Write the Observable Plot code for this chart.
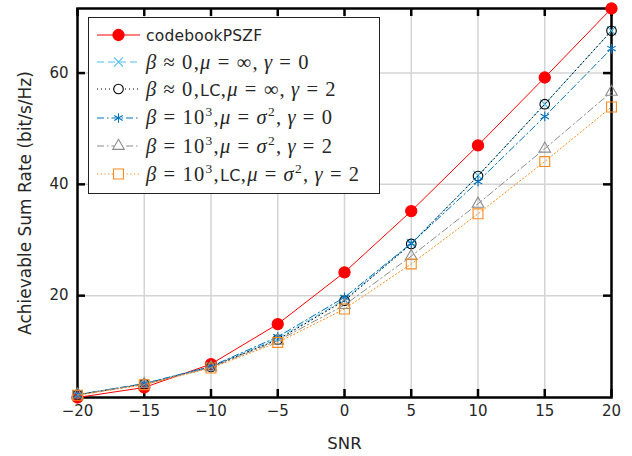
<!DOCTYPE html>
<html><head><meta charset="utf-8">
<script src="https://cdn.jsdelivr.net/npm/d3@7"></script>
<script src="https://cdn.jsdelivr.net/npm/@observablehq/plot@0.6"></script>
<style>
body{margin:0;background:#fff;}
#wrap{position:relative;width:632px;height:456px;font-family:"DejaVu Sans",sans-serif;}
#legend{position:absolute;left:88px;top:17px;width:292px;height:177px;border:1px solid #222;background:#fff;box-sizing:border-box;}
.row{position:absolute;left:0;height:28px;display:flex;align-items:center;white-space:nowrap;color:#262626;}
.row svg{margin-left:8px;margin-right:6px;}
.sans{font-family:"DejaVu Sans",sans-serif;font-size:15.5px;letter-spacing:0.2px;}
.math{font-family:"Liberation Serif","DejaVu Serif",serif;font-size:20.5px;letter-spacing:1.3px;}
.math .sans{font-size:16px;letter-spacing:0.3px;}
.math i{font-style:italic;}
.math sup{font-size:13.5px;vertical-align:8px;line-height:0;}
.rel{margin:0 6px;}
.sp{margin-left:5px;}
</style>
</head><body>
<div id="wrap"><div id="chart"></div><div id="legend"></div></div>
<script>
// ---- data ----
const snr = [-20, -15, -10, -5, 0, 5, 10, 15, 20];
const codebookPSZF = [1.7, 3.5, 7.7, 14.9, 24.2, 35.2, 47.0, 59.2, 71.6];
const beta0Gamma0 = [2.2, 4.2, 7.2, 12.3, 19.3, 29.4, 41.6, 54.4, 67.6];
const beta0LCGamma2 = [2.2, 4.1, 7.2, 12.1, 19.1, 29.3, 41.5, 54.4, 67.6];
const beta1e3Gamma0 = [2.2, 4.2, 7.3, 12.6, 19.7, 29.4, 40.5, 52.2, 64.4];
const beta1e3Gamma2 = [2.2, 4.1, 7.1, 11.9, 18.3, 27.1, 36.5, 46.4, 56.6];
const beta1e3LCGamma2 = [2.1, 4.0, 7.0, 11.6, 17.6, 25.7, 34.7, 44.1, 53.9];
const xTicks = [-20, -15, -10, -5, 0, 5, 10, 15, 20];
const yTicks = [20, 40, 60];
const xLabel = "SNR";
const yLabel = "Achievable Sum Rate (bit/s/Hz)";

// ---- styles ----
const series = [
  {values: codebookPSZF, color: "#ff0000", dash: null, symbol: "circle", r: 5.6, fill: true,
   label: '<span class="sans">codebookPSZF</span>'},
  {values: beta0Gamma0, color: "#4dbeee", dash: "7,4", symbol: "times", r: 4.2, fill: false,
   label: '<span class="math"><i>β</i><span class="rel">≈</span>0,<i>μ</i><span class="rel">=</span>∞,<span class="sp"></span><i>γ</i><span class="rel">=</span>0</span>'},
  {values: beta0LCGamma2, color: "#000000", dash: "1,3", symbol: "circle", r: 4.8, fill: false,
   label: '<span class="math"><i>β</i><span class="rel">≈</span>0,<span class="sans">LC</span>,<i>μ</i><span class="rel">=</span>∞,<span class="sp"></span><i>γ</i><span class="rel">=</span>2</span>'},
  {values: beta1e3Gamma0, color: "#0072bd", dash: "7,3,1.5,3", symbol: "asterisk", r: 4.6, fill: false,
   label: '<span class="math"><i>β</i><span class="rel">=</span>10<sup>3</sup>,<i>μ</i><span class="rel">=</span><i>σ</i><sup>2</sup>,<span class="sp"></span><i>γ</i><span class="rel">=</span>0</span>'},
  {values: beta1e3Gamma2, color: "#8c8c8c", dash: "7,3,1.5,3", symbol: "triangle", r: 4.3, fill: false,
   label: '<span class="math"><i>β</i><span class="rel">=</span>10<sup>3</sup>,<i>μ</i><span class="rel">=</span><i>σ</i><sup>2</sup>,<span class="sp"></span><i>γ</i><span class="rel">=</span>2</span>'},
  {values: beta1e3LCGamma2, color: "#ff8a1c", dash: "1.2,2.5", symbol: "square", r: 5.6, fill: false,
   label: '<span class="math"><i>β</i><span class="rel">=</span>10<sup>3</sup>,<span class="sans">LC</span>,<i>μ</i><span class="rel">=</span><i>σ</i><sup>2</sup>,<span class="sp"></span><i>γ</i><span class="rel">=</span>2</span>'}
];

const W = 632, H = 456, mL = 77, mR = 21, mT = 8, mB = 59;
const innerW = W - mL - mR, innerH = H - mT - mB;
const tickLen = 8;
const fmt = d => d < 0 ? "\u2212" + (-d) : String(d);

const dataMarks = [];
series.forEach((s) => {
  const data = snr.map((x, j) => ({x, y: s.values[j]}));
  dataMarks.push(Plot.line(data, {x: "x", y: "y", stroke: s.color, strokeWidth: 1, strokeDasharray: s.dash}));
  dataMarks.push(Plot.dot(data, {x: "x", y: "y", symbol: () => s.symbol, r: s.r,
    stroke: s.color, strokeWidth: 1.1, fill: s.fill ? s.color : "none"}));
});

const chart = Plot.plot({
  width: W, height: H,
  marginLeft: mL, marginRight: mR, marginTop: mT, marginBottom: mB,
  style: {fontFamily: '"DejaVu Sans", sans-serif', fontSize: "15px", color: "#262626", background: "#fff"},
  x: {domain: [-20, 20]},
  y: {domain: [1.7, 71.6]},
  symbol: {type: "identity"},
  marks: [
    Plot.gridX(xTicks, {stroke: "#d4d4d4", strokeOpacity: 1, strokeWidth: 1.5}),
    Plot.gridY(yTicks, {stroke: "#d4d4d4", strokeOpacity: 1, strokeWidth: 1.5}),
    Plot.frame({stroke: "#000", strokeWidth: 2.5}),
    Plot.tickX(xTicks, {x: d => d, insetTop: innerH - tickLen, stroke: "#000", strokeWidth: 2.5}),
    Plot.tickX(xTicks, {x: d => d, insetBottom: innerH - tickLen, stroke: "#000", strokeWidth: 2.5}),
    Plot.tickY(yTicks, {y: d => d, insetRight: innerW - tickLen, stroke: "#000", strokeWidth: 2.5}),
    Plot.tickY(yTicks, {y: d => d, insetLeft: innerW - tickLen, stroke: "#000", strokeWidth: 2.5}),
    Plot.axisX(xTicks, {tickSize: 0, tickPadding: 8, tickFormat: fmt, fontSize: 15, label: null}),
    Plot.axisY(yTicks, {tickSize: 0, tickPadding: 9, tickFormat: fmt, fontSize: 15, label: null}),
    Plot.text([xLabel], {text: d => d, frameAnchor: "bottom", dy: 51, fontSize: 16.5, fill: "#262626"}),
    Plot.text([yLabel], {text: d => d, frameAnchor: "left", textAnchor: "middle", lineAnchor: "middle", dx: -52, rotate: -90, fontSize: 17, fill: "#262626"}),
    ...dataMarks
  ]
});
document.getElementById("chart").appendChild(chart);

// ---- legend ----
const legend = document.getElementById("legend");
const rowTops = [3, 30, 57, 85.5, 114, 142];
const symMap = {circle: d3.symbolCircle, times: d3.symbolTimes, asterisk: d3.symbolAsterisk, triangle: d3.symbolTriangle, square: d3.symbolSquare};
series.forEach((s, i) => {
  const row = document.createElement("div");
  row.className = "row";
  row.style.top = rowTops[i] + "px";
  const sw = d3.create("svg").attr("width", 43).attr("height", 28);
  sw.append("line").attr("x1", 0).attr("x2", 43).attr("y1", 14).attr("y2", 14)
    .attr("stroke", s.color).attr("stroke-width", 1).attr("stroke-dasharray", s.dash);
  sw.append("path").attr("transform", "translate(21.5,14)")
    .attr("d", d3.symbol(symMap[s.symbol], s.r * s.r * Math.PI)())
    .attr("stroke", s.color).attr("stroke-width", 1.1).attr("fill", s.fill ? s.color : "#fff");
  row.appendChild(sw.node());
  const lab = document.createElement("span");
  lab.innerHTML = s.label;
  row.appendChild(lab);
  legend.appendChild(row);
});
</script>
</body></html>
